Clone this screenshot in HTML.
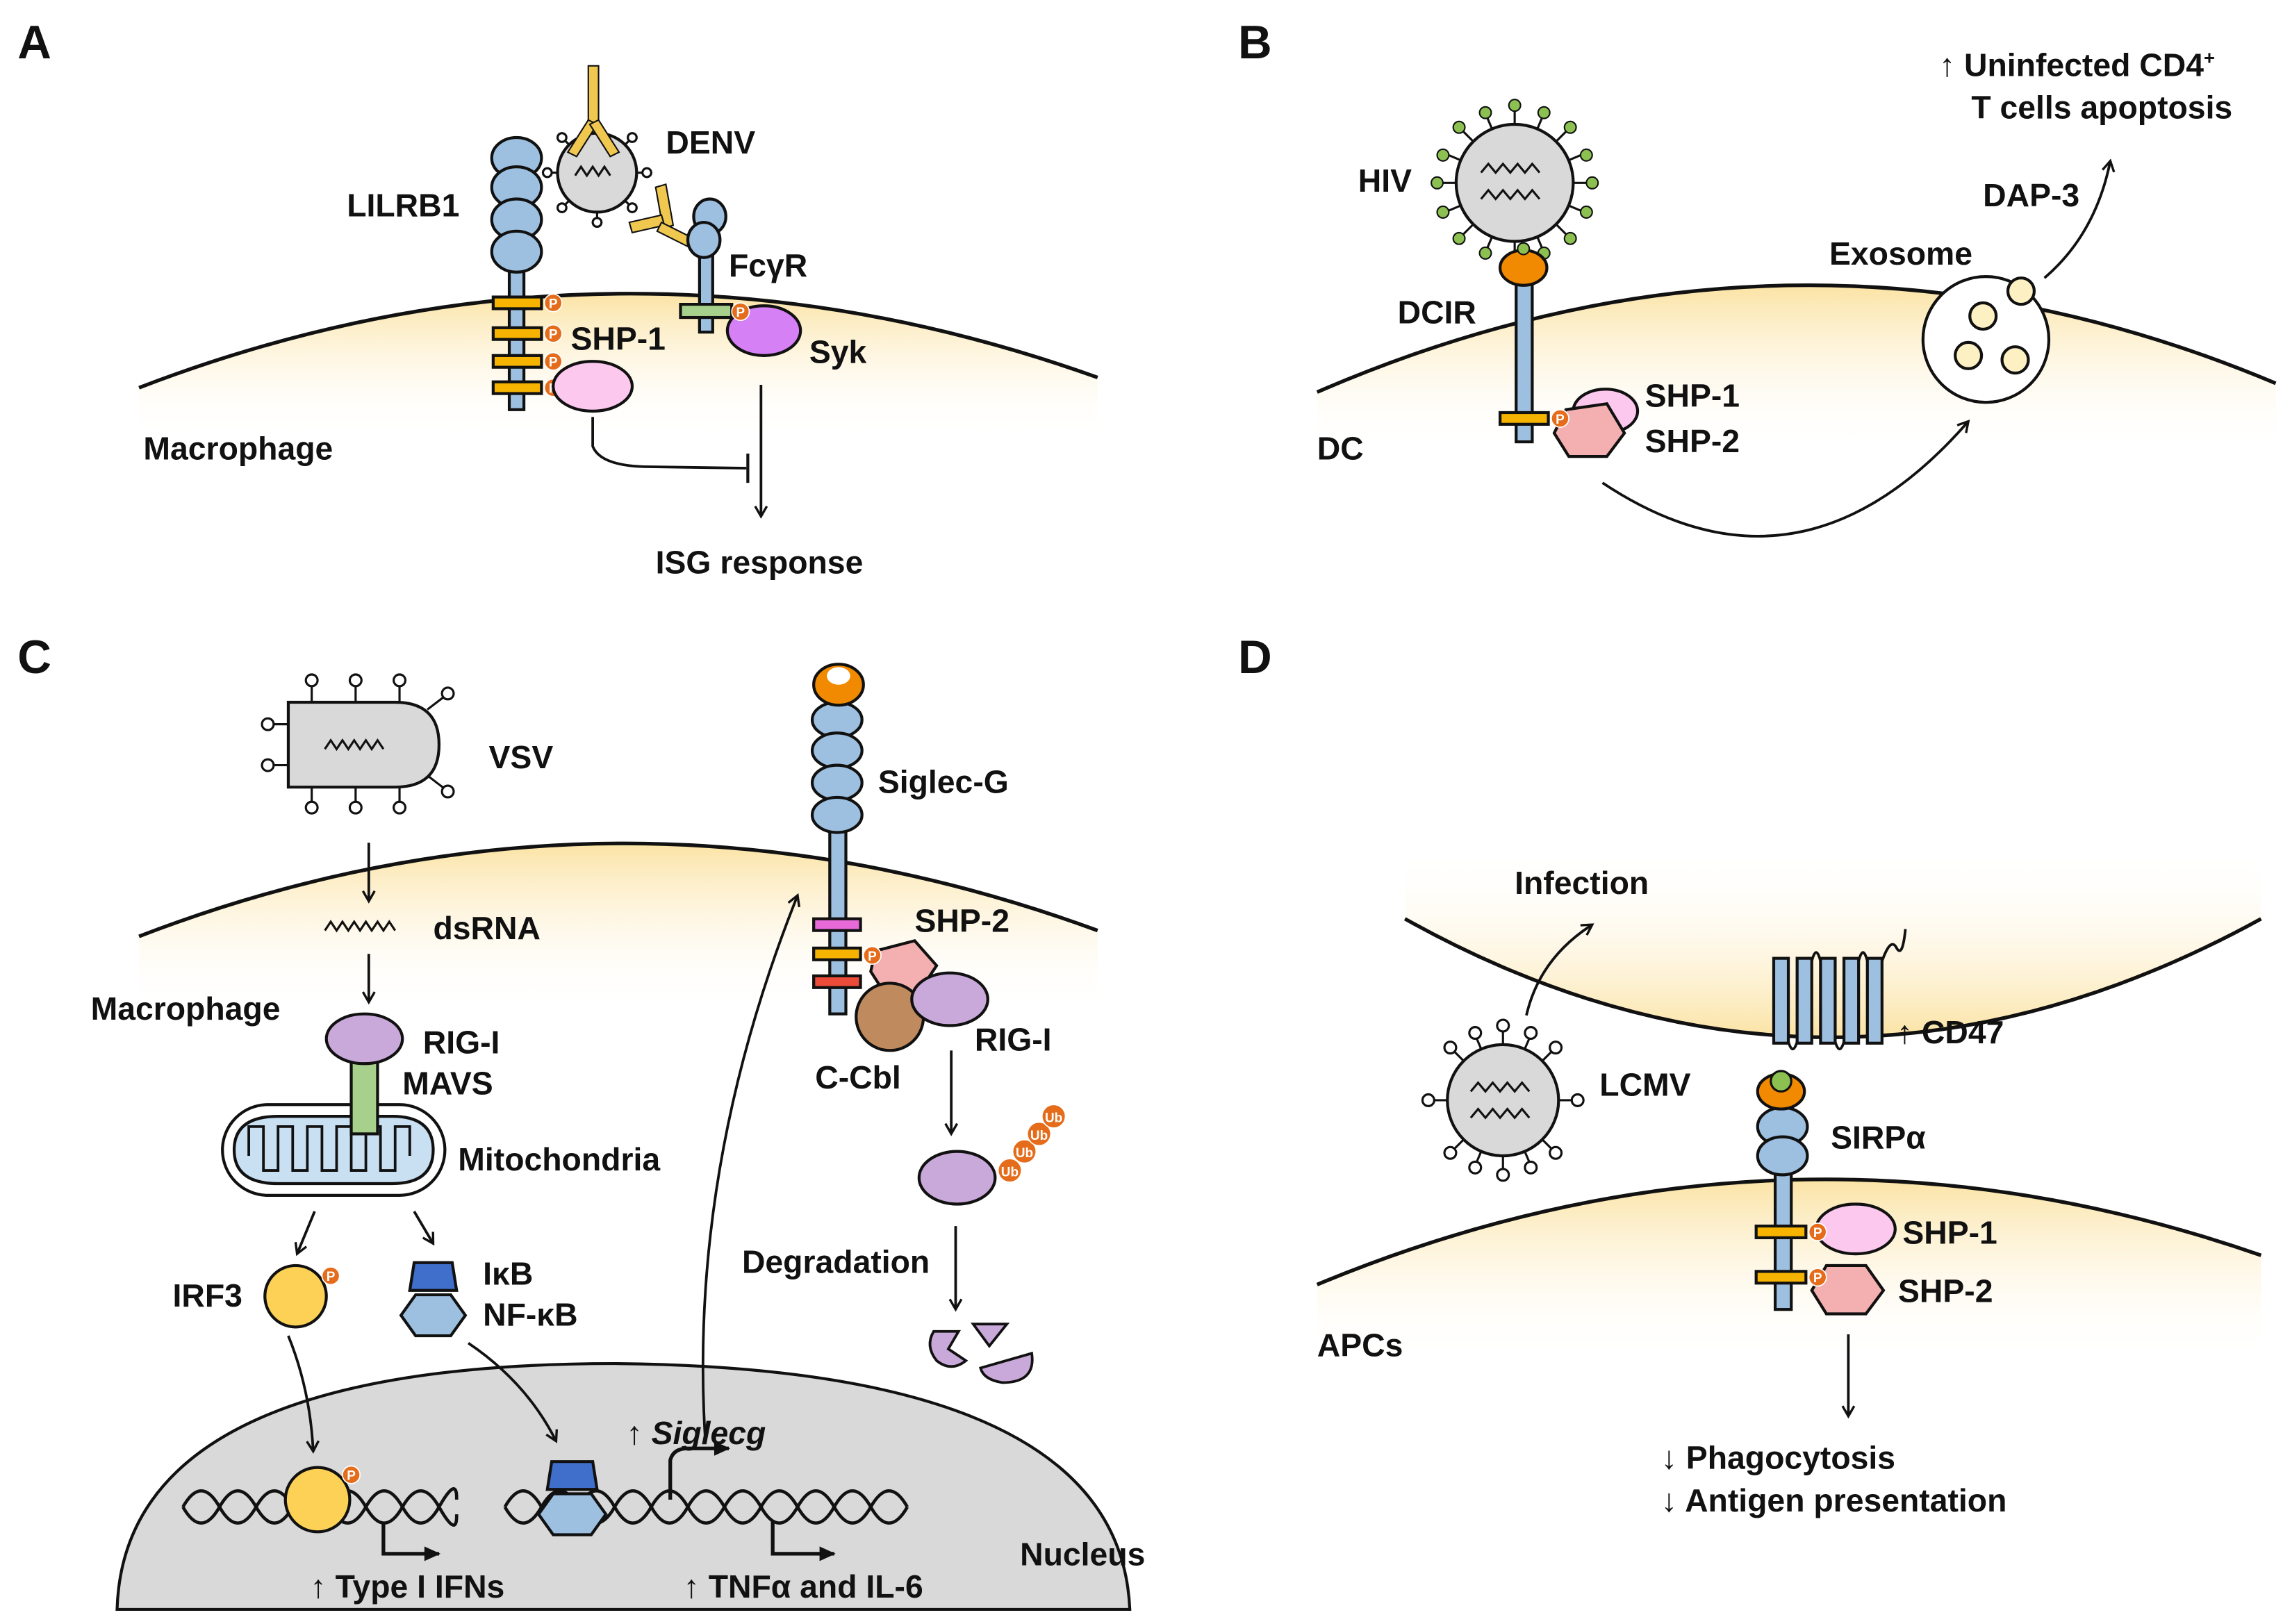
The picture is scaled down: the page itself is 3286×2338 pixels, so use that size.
<!DOCTYPE html>
<html><head><meta charset="utf-8"><style>
html,body{margin:0;padding:0;background:#fff;}
svg{display:block;}
text{font-family:"Liberation Sans",Arial,sans-serif;font-weight:bold;fill:#111;}
</style></head><body>
<svg width="3286" height="2338" viewBox="0 0 1560 1110" preserveAspectRatio="none" xmlns="http://www.w3.org/2000/svg">
<defs>
<linearGradient id="gy" x1="0" y1="0" x2="0" y2="1"><stop offset="0" stop-color="#fbe3a4"/><stop offset="1" stop-color="#fff" stop-opacity="0"/></linearGradient>
<linearGradient id="gyu" x1="0" y1="1" x2="0" y2="0"><stop offset="0" stop-color="#fbe3a4"/><stop offset="1" stop-color="#fff" stop-opacity="0"/></linearGradient>
<marker id="ar" markerWidth="10" markerHeight="10" refX="8" refY="5" orient="auto" markerUnits="userSpaceOnUse"><path d="M1,1 L8,5 L1,9" fill="none" stroke="#111" stroke-width="1.6"/></marker>
<marker id="ab" markerWidth="14" markerHeight="14" refX="11" refY="7" orient="auto" markerUnits="userSpaceOnUse"><path d="M1,2 L12,7 L1,12 Z" fill="#111"/></marker>
<g id="P"><circle r="6" fill="#e46c1a" stroke="#fff" stroke-width="0.8"/><text x="-3" y="3.5" style="font-size:9px;fill:#fff">P</text></g>
</defs>

<!-- Panel A -->
<text x="12" y="40" style="font-size:32px">A</text>
<path d="M95,265 Q420,140 750,258 L750,300 L95,300 Z" fill="url(#gy)"/>
<path d="M95,265 Q420,140 750,258" fill="none" stroke="#111" stroke-width="2.5"/>
<rect x="348" y="150" width="10" height="130" fill="#9dbfe0" stroke="#111" stroke-width="2"/>
<g fill="#9dbfe0" stroke="#111" stroke-width="2">
<ellipse cx="353" cy="108" rx="17" ry="14"/><ellipse cx="353" cy="128" rx="17" ry="14"/><ellipse cx="353" cy="150" rx="17" ry="14"/><ellipse cx="353" cy="172" rx="17" ry="14"/></g>
<g fill="#f6b400" stroke="#111" stroke-width="2">
<rect x="337" y="203" width="33" height="8"/><rect x="337" y="224" width="33" height="8"/><rect x="337" y="243" width="33" height="8"/><rect x="337" y="261" width="33" height="8"/></g>
<use href="#P" x="378" y="207"/><use href="#P" x="378" y="228"/><use href="#P" x="378" y="247"/><use href="#P" x="378" y="265"/>
<ellipse cx="405" cy="264" rx="27" ry="17" fill="#fcc8ee" stroke="#111" stroke-width="2"/>
<g stroke="#111" stroke-width="1.5" fill="#fff">
<line x1="408" y1="84" x2="408" y2="152"/><line x1="374" y1="118" x2="442" y2="118"/><line x1="384" y1="94" x2="432" y2="142"/><line x1="432" y1="94" x2="384" y2="142"/>
<circle cx="384" cy="94" r="3"/><circle cx="432" cy="94" r="3"/><circle cx="384" cy="142" r="3"/><circle cx="432" cy="142" r="3"/><circle cx="374" cy="118" r="3"/><circle cx="442" cy="118" r="3"/><circle cx="408" cy="152" r="3"/></g>
<circle cx="408" cy="118" r="27" fill="#d9d9d9" stroke="#111" stroke-width="2"/>
<path d="M393,120 l4,-6 l4,6 l4,-6 l4,6 l4,-6 l4,6" fill="none" stroke="#111" stroke-width="1.5"/>
<g fill="#f0c850" stroke="#111" stroke-width="1">
<rect x="402" y="45" width="7" height="40"/><path d="M402,82 l-14,22 l6,3 l14,-22z"/><path d="M409,82 l14,22 l-6,3 l-14,-22z"/>
<path d="M448,128 l5,28 l7,-2 l-5,-28z"/><path d="M430,152 l22,-5 l2,7 l-22,5z"/><path d="M452,152 l30,15 l-3,6 l-30,-15z"/></g>
<rect x="478" y="150" width="9" height="77" fill="#9dbfe0" stroke="#111" stroke-width="2"/>
<ellipse cx="485" cy="148" rx="11" ry="12" fill="#9dbfe0" stroke="#111" stroke-width="2"/>
<ellipse cx="481" cy="164" rx="11" ry="12" fill="#9dbfe0" stroke="#111" stroke-width="2"/>
<rect x="465" y="208" width="35" height="9" fill="#a8d08d" stroke="#111" stroke-width="2"/>
<ellipse cx="522" cy="226" rx="25" ry="17" fill="#d580f5" stroke="#111" stroke-width="2"/>
<use href="#P" x="506" y="213"/>
<text x="455" y="105" style="font-size:22px">DENV</text>
<text x="237" y="148" style="font-size:22px">LILRB1</text>
<text x="498" y="189" style="font-size:22px">FcγR</text>
<text x="390" y="239" style="font-size:22px">SHP-1</text>
<text x="553" y="248" style="font-size:22px">Syk</text>
<text x="98" y="314" style="font-size:22px">Macrophage</text>
<text x="448" y="392" style="font-size:22px">ISG response</text>
<path d="M405,285 L405,305 Q410,318 440,319 L510,320" fill="none" stroke="#111" stroke-width="1.8"/>
<line x1="511" y1="310" x2="511" y2="330" stroke="#111" stroke-width="2"/>
<line x1="520" y1="263" x2="520" y2="353" stroke="#111" stroke-width="1.8" marker-end="url(#ar)"/>

<!-- Panel B -->
<text x="846" y="40" style="font-size:32px">B</text>
<path d="M900,268 Q1230,125 1555,262 L1555,310 L900,310 Z" fill="url(#gy)"/>
<path d="M900,268 Q1230,125 1555,262" fill="none" stroke="#111" stroke-width="2.5"/>
<g stroke="#111" stroke-width="1.5">
<line x1="1035" y1="70" x2="1035" y2="180"/><line x1="980" y1="125" x2="1090" y2="125"/><line x1="996" y1="86" x2="1074" y2="164"/><line x1="1074" y1="86" x2="996" y2="164"/>
<line x1="1014" y1="75" x2="1056" y2="175"/><line x1="1056" y1="75" x2="1014" y2="175"/><line x1="985" y1="104" x2="1085" y2="146"/><line x1="985" y1="146" x2="1085" y2="104"/></g>
<g fill="#8cc152" stroke="#111" stroke-width="1">
<circle cx="1035" cy="72" r="4"/><circle cx="1088" cy="125" r="4"/><circle cx="982" cy="125" r="4"/><circle cx="1073" cy="87" r="4"/><circle cx="997" cy="87" r="4"/><circle cx="1073" cy="163" r="4"/><circle cx="997" cy="163" r="4"/><circle cx="1015" cy="77" r="4"/><circle cx="1055" cy="77" r="4"/><circle cx="1084" cy="106" r="4"/><circle cx="1084" cy="145" r="4"/><circle cx="986" cy="106" r="4"/><circle cx="986" cy="145" r="4"/><circle cx="1055" cy="173" r="4"/><circle cx="1015" cy="173" r="4"/></g>
<circle cx="1035" cy="125" r="40" fill="#d9d9d9" stroke="#111" stroke-width="2"/>
<path d="M1012,118 l5,-6 l5,6 l5,-6 l5,6 l5,-6 l5,6 l5,-6 l5,6 M1012,136 l5,-6 l5,6 l5,-6 l5,6 l5,-6 l5,6 l5,-6 l5,6" fill="none" stroke="#111" stroke-width="1.5"/>
<rect x="1036" y="192" width="11" height="110" fill="#9dbfe0" stroke="#111" stroke-width="2"/>
<ellipse cx="1041" cy="183" rx="16" ry="12" fill="#f18a00" stroke="#111" stroke-width="2"/>
<circle cx="1041" cy="170" r="4" fill="#8cc152" stroke="#111"/>
<rect x="1025" y="282" width="33" height="8" fill="#f6b400" stroke="#111" stroke-width="2"/>
<ellipse cx="1097" cy="281" rx="22" ry="15" fill="#fcc8ee" stroke="#111" stroke-width="2"/>
<path d="M1070,280 L1098,276 L1110,296 L1098,312 L1072,312 L1062,296 Z" fill="#f4b0b0" stroke="#111" stroke-width="2"/>
<use href="#P" x="1066" y="286"/>
<circle cx="1357" cy="232" r="43" fill="#fff" stroke="#111" stroke-width="2"/>
<g fill="#fdf0c2" stroke="#111" stroke-width="2"><circle cx="1355" cy="216" r="9"/><circle cx="1345" cy="243" r="9"/><circle cx="1377" cy="246" r="9"/><circle cx="1381" cy="199" r="9"/></g>
<path d="M1095,330 Q1230,420 1345,288" fill="none" stroke="#111" stroke-width="1.8" marker-end="url(#ar)"/>
<path d="M1397,190 Q1432,160 1442,110" fill="none" stroke="#111" stroke-width="1.8" marker-end="url(#ar)"/>
<text x="928" y="131" style="font-size:22px">HIV</text>
<text x="955" y="221" style="font-size:22px">DCIR</text>
<text x="900" y="314" style="font-size:22px">DC</text>
<text x="1124" y="278" style="font-size:22px">SHP-1</text>
<text x="1124" y="309" style="font-size:22px">SHP-2</text>
<text x="1250" y="181" style="font-size:22px">Exosome</text>
<text x="1355" y="141" style="font-size:22px">DAP-3</text>
<text x="1325" y="52" style="font-size:22px">↑ Uninfected CD4<tspan dy="-8" style="font-size:13px">+</tspan></text>
<text x="1347" y="81" style="font-size:22px">T cells apoptosis</text>

<!-- Panel C -->
<text x="12" y="460" style="font-size:32px">C</text>
<path d="M95,640 Q420,515 750,636 L750,690 L95,690 Z" fill="url(#gy)"/>
<path d="M95,640 Q420,515 750,636" fill="none" stroke="#111" stroke-width="2.5"/>
<path d="M80,1100 Q85,932 420,932 Q765,935 772,1100 Z" fill="#d9d9d9" stroke="#111" stroke-width="2"/>
<g stroke="#111" stroke-width="1.5" fill="#fff">
<line x1="213" y1="465" x2="213" y2="480"/><line x1="243" y1="465" x2="243" y2="480"/><line x1="273" y1="465" x2="273" y2="480"/>
<line x1="213" y1="538" x2="213" y2="552"/><line x1="243" y1="538" x2="243" y2="552"/><line x1="273" y1="538" x2="273" y2="552"/>
<line x1="183" y1="495" x2="197" y2="495"/><line x1="183" y1="523" x2="197" y2="523"/>
<line x1="292" y1="485" x2="305" y2="475"/><line x1="292" y1="530" x2="305" y2="540"/>
<circle cx="213" cy="465" r="4"/><circle cx="243" cy="465" r="4"/><circle cx="273" cy="465" r="4"/><circle cx="213" cy="552" r="4"/><circle cx="243" cy="552" r="4"/><circle cx="273" cy="552" r="4"/><circle cx="183" cy="495" r="4"/><circle cx="183" cy="523" r="4"/><circle cx="306" cy="474" r="4"/><circle cx="306" cy="541" r="4"/></g>
<path d="M197,480 L270,480 Q300,480 300,509 Q300,538 270,538 L197,538 Z" fill="#d9d9d9" stroke="#111" stroke-width="2"/>
<path d="M222,512 l4,-6 l4,6 l4,-6 l4,6 l4,-6 l4,6 l4,-6 l4,6 l4,-6 l4,6" fill="none" stroke="#111" stroke-width="1.5"/>
<text x="334" y="525" style="font-size:22px">VSV</text>
<line x1="252" y1="576" x2="252" y2="616" stroke="#111" stroke-width="1.8" marker-end="url(#ar)"/>
<path d="M222,636 l4,-6 l4,6 l4,-6 l4,6 l4,-6 l4,6 l4,-6 l4,6 l4,-6 l4,6 l4,-6 l4,6" fill="none" stroke="#111" stroke-width="1.5"/>
<text x="296" y="642" style="font-size:22px">dsRNA</text>
<line x1="252" y1="652" x2="252" y2="685" stroke="#111" stroke-width="1.8" marker-end="url(#ar)"/>
<text x="62" y="697" style="font-size:22px">Macrophage</text>
<rect x="152" y="755" width="152" height="62" rx="31" fill="#fff" stroke="#111" stroke-width="2"/>
<path d="M160,786 Q160,763 190,763 L268,763 Q296,763 296,786 Q296,809 268,809 L190,809 Q160,809 160,786 Z" fill="#c9dff2" stroke="#111" stroke-width="2"/>
<path d="M170,790 l0,-20 l10,0 l0,30 l10,0 l0,-30 l10,0 l0,30 l10,0 l0,-30 l10,0 l0,30 l10,0 l0,-30 l10,0 l0,30 l10,0 l0,-30 l10,0 l0,30 l10,0 l0,-30 l10,0 l0,20" fill="none" stroke="#111" stroke-width="1.8"/>
<rect x="240" y="712" width="18" height="63" fill="#a8d08d" stroke="#111" stroke-width="2"/>
<ellipse cx="249" cy="710" rx="26" ry="17" fill="#c9a9d9" stroke="#111" stroke-width="2"/>
<text x="289" y="720" style="font-size:22px">RIG-I</text>
<text x="275" y="748" style="font-size:22px">MAVS</text>
<text x="313" y="800" style="font-size:22px">Mitochondria</text>
<line x1="215" y1="828" x2="203" y2="857" stroke="#111" stroke-width="1.8" marker-end="url(#ar)"/>
<line x1="283" y1="828" x2="296" y2="850" stroke="#111" stroke-width="1.8" marker-end="url(#ar)"/>
<circle cx="202" cy="886" r="21" fill="#fcd155" stroke="#111" stroke-width="2"/>
<use href="#P" x="226" y="872"/>
<text x="118" y="893" style="font-size:22px">IRF3</text>
<path d="M283,863 L309,863 L312,882 L280,882 Z" fill="#3f6fca" stroke="#111" stroke-width="2"/>
<path d="M284,885 L308,885 L318,899 L308,913 L284,913 L274,899 Z" fill="#9dbfe0" stroke="#111" stroke-width="2"/>
<text x="330" y="878" style="font-size:22px">IκB</text>
<text x="330" y="906" style="font-size:22px">NF-κB</text>
<path d="M197,913 Q212,950 214,992" fill="none" stroke="#111" stroke-width="1.8" marker-end="url(#ar)"/>
<path d="M320,918 Q360,945 380,985" fill="none" stroke="#111" stroke-width="1.8" marker-end="url(#ar)"/>
<path d="M125,1030 Q137.5,1008 150,1030 T175,1030 T200,1030 T225,1030 T250,1030 T275,1030 T300,1030 T312,1035 M125,1030 Q137.5,1052 150,1030 T175,1030 T200,1030 T225,1030 T250,1030 T275,1030 T300,1030 T312,1025" fill="none" stroke="#111" stroke-width="2.2"/>
<path d="M345,1030 Q357.5,1008 370,1030 T395,1030 T420,1030 T445,1030 T470,1030 T495,1030 T520,1030 T545,1030 T570,1030 T595,1030 T620,1030 M345,1030 Q357.5,1052 370,1030 T395,1030 T420,1030 T445,1030 T470,1030 T495,1030 T520,1030 T545,1030 T570,1030 T595,1030 T620,1030" fill="none" stroke="#111" stroke-width="2.2"/>
<circle cx="217" cy="1025" r="22" fill="#fcd155" stroke="#111" stroke-width="2"/>
<use href="#P" x="240" y="1008"/>
<path d="M262,1040 L262,1062 L300,1062" fill="none" stroke="#111" stroke-width="2.5" marker-end="url(#ab)"/>
<path d="M377,999 L405,999 L408,1018 L374,1018 Z" fill="#3f6fca" stroke="#111" stroke-width="2"/>
<path d="M378,1021 L404,1021 L414,1035 L404,1049 L378,1049 L368,1035 Z" fill="#9dbfe0" stroke="#111" stroke-width="2"/>
<path d="M458,1025 L458,998 Q460,990 470,990 L498,990" fill="none" stroke="#111" stroke-width="2.5" marker-end="url(#ab)"/>
<path d="M528,1040 L528,1062 L570,1062" fill="none" stroke="#111" stroke-width="2.5" marker-end="url(#ab)"/>
<text x="428" y="987" style="font-size:22px">↑ <tspan font-style="italic">Siglecg</tspan></text>
<text x="212" y="1092" style="font-size:22px">↑ Type I IFNs</text>
<text x="467" y="1092" style="font-size:22px">↑ TNFα and IL-6</text>
<text x="697" y="1070" style="font-size:22px">Nucleus</text>
<path d="M482,985 Q470,800 545,612" fill="none" stroke="#111" stroke-width="1.8" marker-end="url(#ar)"/>
<rect x="567" y="475" width="11" height="218" fill="#9dbfe0" stroke="#111" stroke-width="2"/>
<g fill="#9dbfe0" stroke="#111" stroke-width="2"><ellipse cx="572" cy="492" rx="17" ry="12"/><ellipse cx="572" cy="513" rx="17" ry="12"/><ellipse cx="572" cy="535" rx="17" ry="12"/><ellipse cx="572" cy="557" rx="17" ry="12"/></g>
<ellipse cx="573" cy="468" rx="17" ry="14" fill="#f18a00" stroke="#111" stroke-width="2"/>
<ellipse cx="573" cy="462" rx="8" ry="6" fill="#fff"/>
<rect x="556" y="628" width="32" height="8" fill="#e86ad8" stroke="#111" stroke-width="2"/>
<rect x="556" y="648" width="32" height="8" fill="#f6b400" stroke="#111" stroke-width="2"/>
<rect x="556" y="667" width="32" height="8" fill="#ec4b3a" stroke="#111" stroke-width="2"/>
<path d="M598,650 L625,643 L640,660 L628,678 L604,678 L595,664 Z" fill="#f4b0b0" stroke="#111" stroke-width="2"/>
<use href="#P" x="596" y="653"/>
<circle cx="608" cy="695" r="23" fill="#c08a5f" stroke="#111" stroke-width="2"/>
<ellipse cx="649" cy="683" rx="26" ry="18" fill="#c9a9d9" stroke="#111" stroke-width="2"/>
<text x="600" y="542" style="font-size:22px">Siglec-G</text>
<text x="625" y="637" style="font-size:22px">SHP-2</text>
<text x="666" y="718" style="font-size:22px">RIG-I</text>
<text x="557" y="744" style="font-size:22px">C-Cbl</text>
<line x1="650" y1="718" x2="650" y2="775" stroke="#111" stroke-width="1.8" marker-end="url(#ar)"/>
<ellipse cx="654" cy="805" rx="26" ry="18" fill="#c9a9d9" stroke="#111" stroke-width="2"/>
<g fill="#e46c1a" stroke="#fff" stroke-width="0.8"><circle cx="690" cy="800" r="8"/><circle cx="700" cy="787" r="8"/><circle cx="710" cy="775" r="8"/><circle cx="720" cy="763" r="8"/></g>
<text x="684" y="804" style="font-size:9px;fill:#fff">Ub</text><text x="694" y="791" style="font-size:9px;fill:#fff">Ub</text><text x="704" y="779" style="font-size:9px;fill:#fff">Ub</text><text x="714" y="767" style="font-size:9px;fill:#fff">Ub</text>
<text x="507" y="870" style="font-size:22px">Degradation</text>
<line x1="653" y1="838" x2="653" y2="895" stroke="#111" stroke-width="1.8" marker-end="url(#ar)"/>
<g fill="#c9a9d9" stroke="#111" stroke-width="1.8"><path d="M638,910 L655,910 L648,922 L660,930 Q650,938 640,930 Q632,920 638,910Z"/><path d="M665,905 L688,905 L676,920 Z"/><path d="M670,935 L705,925 Q708,945 685,945 Q672,943 670,935Z"/></g>

<!-- Panel D -->
<text x="846" y="460" style="font-size:32px">D</text>
<path d="M960,628 Q1250,790 1545,628 L1545,580 L960,580 Z" fill="url(#gyu)"/>
<path d="M960,628 Q1250,790 1545,628" fill="none" stroke="#111" stroke-width="2.5"/>
<path d="M900,878 Q1220,745 1545,858 L1545,930 L900,930 Z" fill="url(#gy)"/>
<path d="M900,878 Q1220,745 1545,858" fill="none" stroke="#111" stroke-width="2.5"/>
<g fill="#9dbfe0" stroke="#111" stroke-width="2">
<rect x="1212" y="655" width="10" height="58"/><rect x="1228" y="655" width="10" height="58"/><rect x="1244" y="655" width="10" height="58"/><rect x="1260" y="655" width="10" height="58"/><rect x="1276" y="655" width="10" height="58"/></g>
<path d="M1222,712 Q1225,722 1228,712 M1254,712 Q1257,722 1260,712 M1238,657 Q1241,645 1244,657 M1270,657 Q1273,645 1276,657 M1286,657 Q1292,640 1296,648 Q1300,655 1302,635" fill="none" stroke="#111" stroke-width="1.8"/>
<text x="1296" y="713" style="font-size:22px">↑ CD47</text>
<rect x="1213" y="790" width="11" height="105" fill="#9dbfe0" stroke="#111" stroke-width="2"/>
<g fill="#9dbfe0" stroke="#111" stroke-width="2"><ellipse cx="1218" cy="770" rx="17" ry="13"/><ellipse cx="1218" cy="790" rx="17" ry="13"/></g>
<ellipse cx="1217" cy="746" rx="16" ry="12" fill="#f18a00" stroke="#111" stroke-width="2"/>
<circle cx="1217" cy="739" r="7" fill="#8cc152" stroke="#111" stroke-width="1.5"/>
<rect x="1200" y="838" width="34" height="8" fill="#f6b400" stroke="#111" stroke-width="2"/>
<rect x="1200" y="869" width="34" height="8" fill="#f6b400" stroke="#111" stroke-width="2"/>
<ellipse cx="1268" cy="840" rx="27" ry="17" fill="#fcc8ee" stroke="#111" stroke-width="2"/>
<path d="M1248,865 L1275,865 L1287,882 L1275,898 L1248,898 L1238,882 Z" fill="#f4b0b0" stroke="#111" stroke-width="2"/>
<use href="#P" x="1242" y="842"/><use href="#P" x="1242" y="873"/>
<text x="1251" y="785" style="font-size:22px">SIRPα</text>
<text x="1300" y="850" style="font-size:22px">SHP-1</text>
<text x="1297" y="890" style="font-size:22px">SHP-2</text>
<text x="900" y="927" style="font-size:22px">APCs</text>
<line x1="1263" y1="912" x2="1263" y2="968" stroke="#111" stroke-width="1.8" marker-end="url(#ar)"/>
<text x="1135" y="1004" style="font-size:22px">↓ Phagocytosis</text>
<text x="1135" y="1033" style="font-size:22px">↓ Antigen presentation</text>
<g stroke="#111" stroke-width="1.5" fill="#fff">
<line x1="1027" y1="700" x2="1027" y2="804"/><line x1="975" y1="752" x2="1079" y2="752"/><line x1="990" y1="715" x2="1064" y2="789"/><line x1="1064" y1="715" x2="990" y2="789"/>
<line x1="1007" y1="705" x2="1047" y2="799"/><line x1="1047" y1="705" x2="1007" y2="799"/>
<circle cx="1027" cy="701" r="4"/><circle cx="1027" cy="803" r="4"/><circle cx="976" cy="752" r="4"/><circle cx="1078" cy="752" r="4"/><circle cx="991" cy="716" r="4"/><circle cx="1063" cy="716" r="4"/><circle cx="991" cy="788" r="4"/><circle cx="1063" cy="788" r="4"/><circle cx="1008" cy="706" r="4"/><circle cx="1046" cy="706" r="4"/><circle cx="1008" cy="798" r="4"/><circle cx="1046" cy="798" r="4"/></g>
<circle cx="1027" cy="752" r="38" fill="#d9d9d9" stroke="#111" stroke-width="2"/>
<path d="M1005,746 l5,-6 l5,6 l5,-6 l5,6 l5,-6 l5,6 l5,-6 l5,6 M1005,764 l5,-6 l5,6 l5,-6 l5,6 l5,-6 l5,6 l5,-6 l5,6" fill="none" stroke="#111" stroke-width="1.5"/>
<text x="1093" y="749" style="font-size:22px">LCMV</text>
<path d="M1043,694 Q1052,655 1088,632" fill="none" stroke="#111" stroke-width="1.8" marker-end="url(#ar)"/>
<text x="1035" y="611" style="font-size:22px">Infection</text>
</svg>
</body></html>
